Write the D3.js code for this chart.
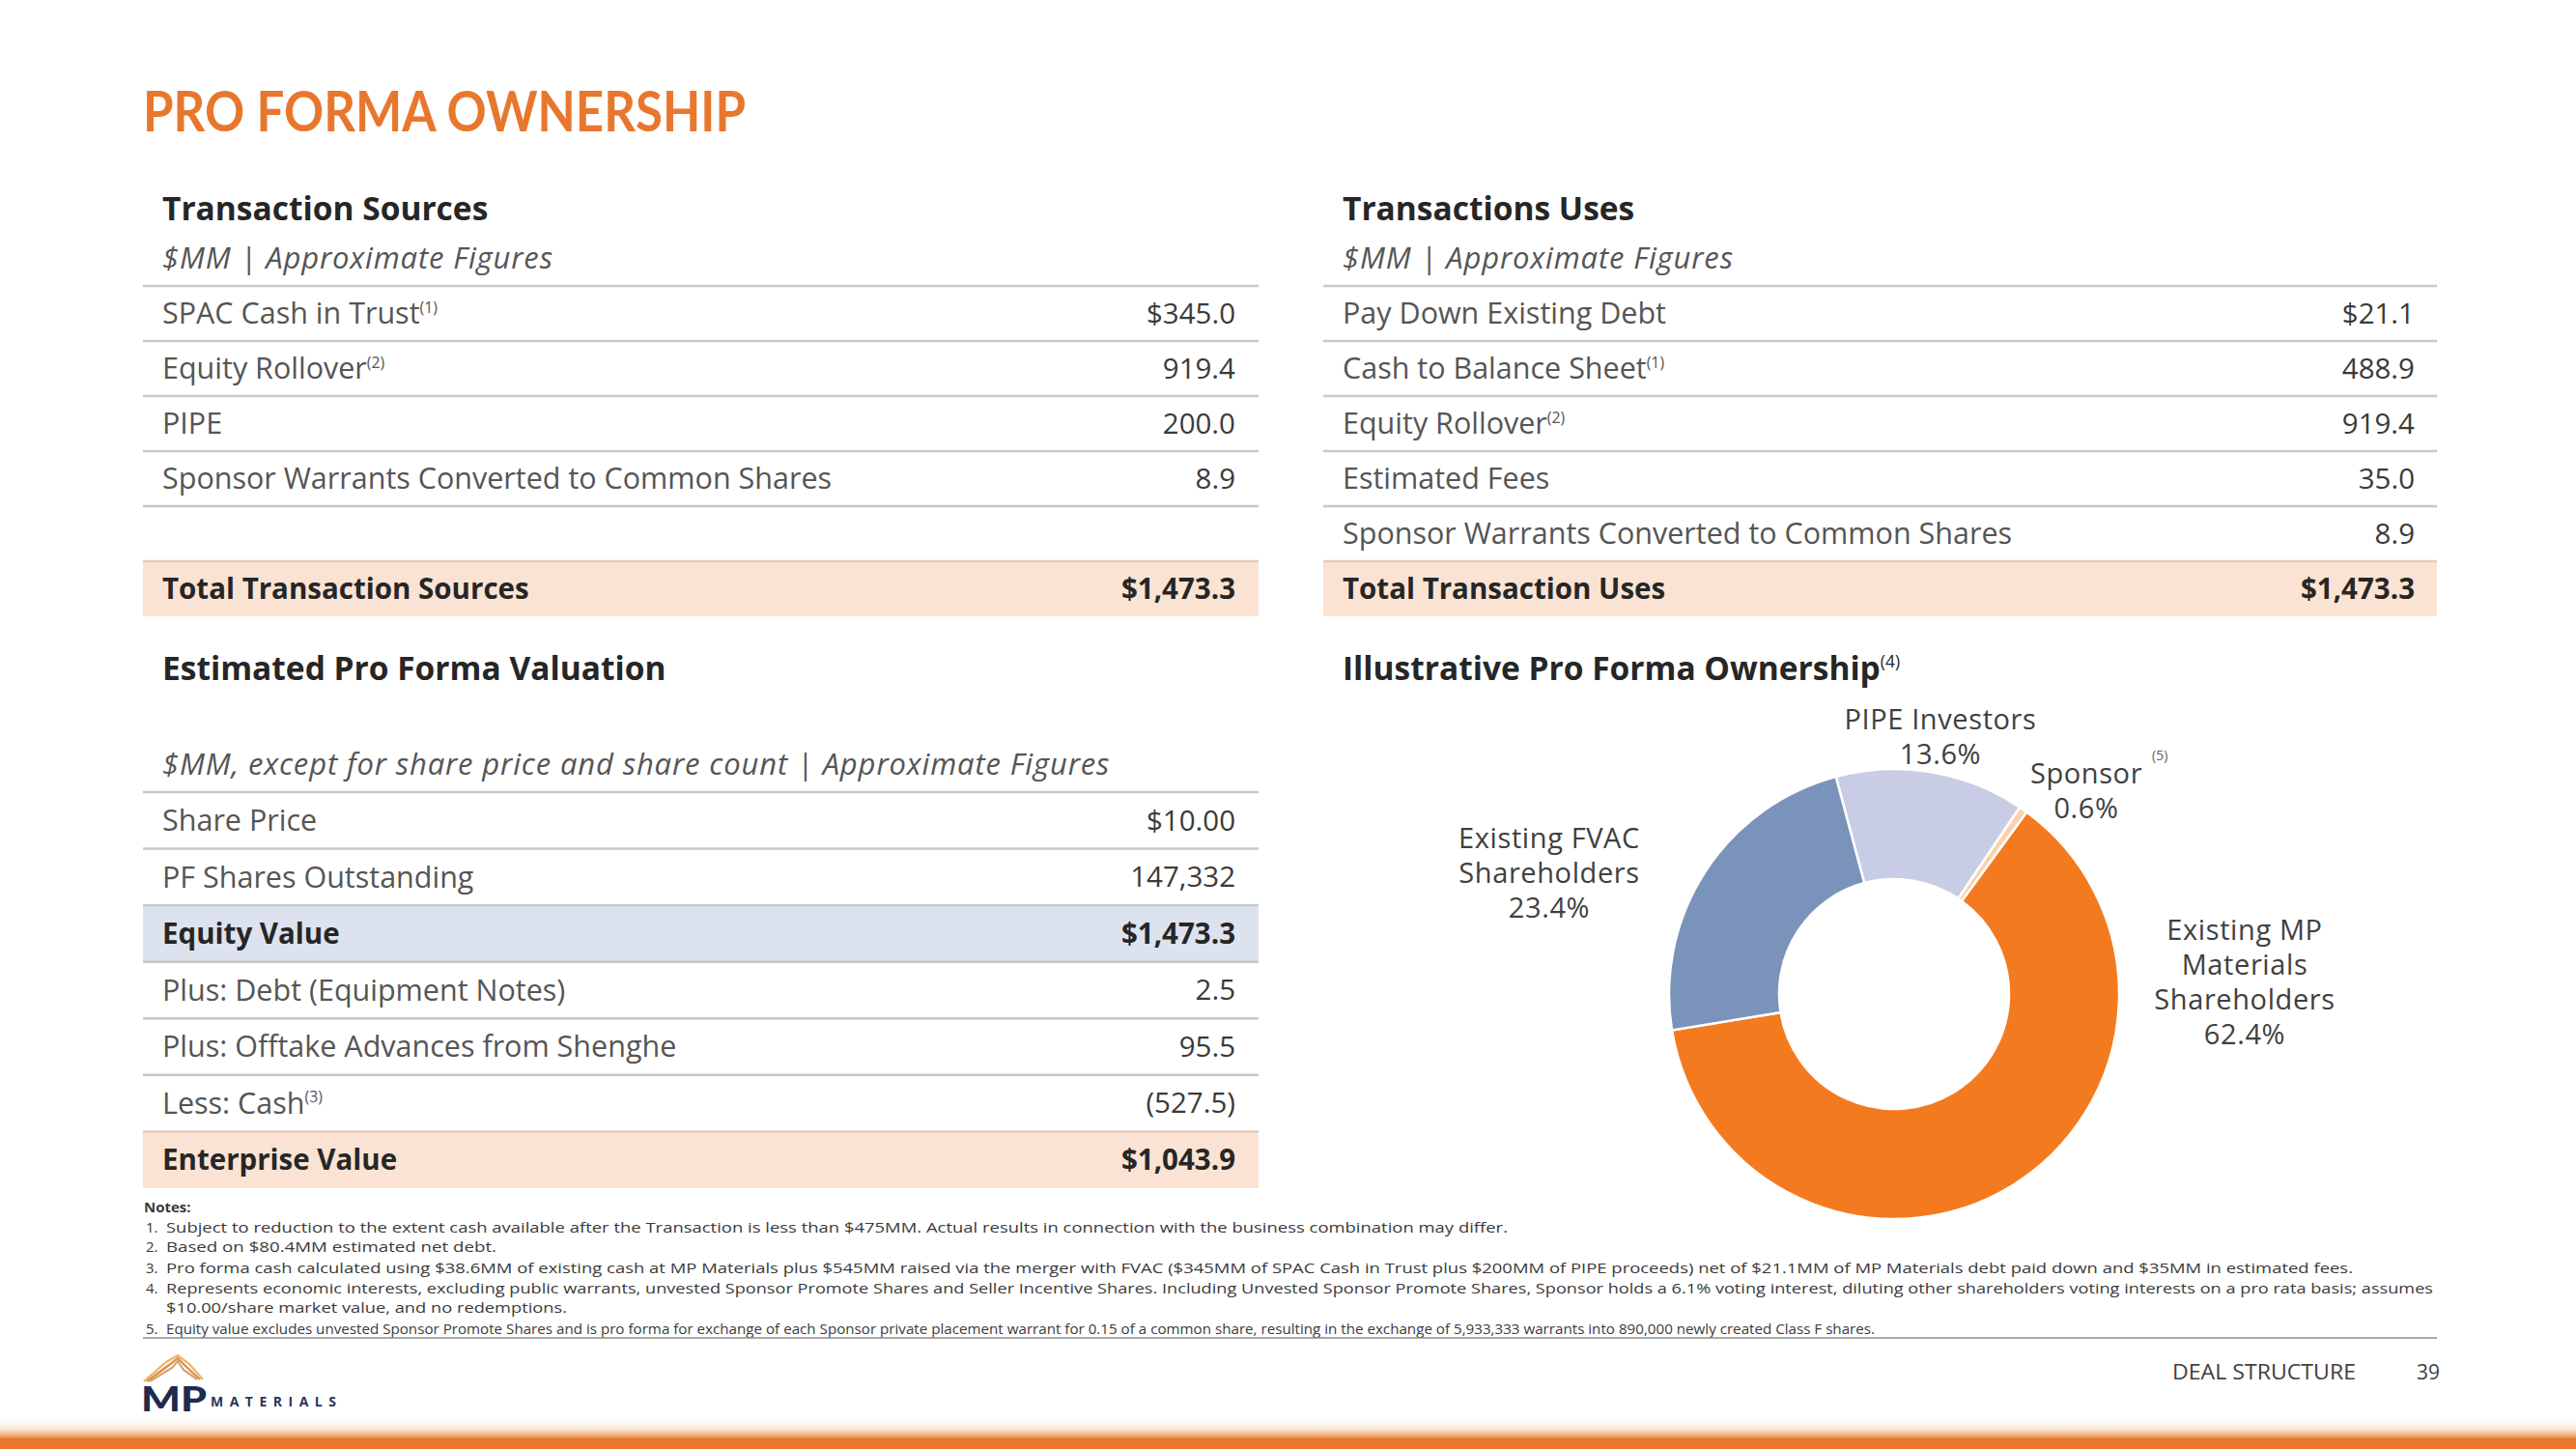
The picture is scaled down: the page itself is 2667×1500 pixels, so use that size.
<!DOCTYPE html>
<html>
<head>
<meta charset="utf-8">
<script src="https://cdn.jsdelivr.net/npm/d3@7"></script>
<style>
  html, body { margin: 0; padding: 0; background: #ffffff; }
  svg { display: block; }
</style>
</head>
<body>
<div id="chart"></div>
<script>
// ---------------- DATA ----------------
const pageTitle = "PRO FORMA OWNERSHIP";

const sourcesTitle = "Transaction Sources";
const sourcesSubtitle = "$MM | Approximate Figures";
const sourceItems = ["SPAC Cash in Trust", "Equity Rollover", "PIPE", "Sponsor Warrants Converted to Common Shares"];
const sourceNotes = ["(1)", "(2)", "", ""];
const sourceValues = ["$345.0", "919.4", "200.0", "8.9"];
const sourceTotalLabel = "Total Transaction Sources";
const sourceTotalValue = "$1,473.3";

const usesTitle = "Transactions Uses";
const usesSubtitle = "$MM | Approximate Figures";
const useItems = ["Pay Down Existing Debt", "Cash to Balance Sheet", "Equity Rollover", "Estimated Fees", "Sponsor Warrants Converted to Common Shares"];
const useNotes = ["", "(1)", "(2)", "", ""];
const useValues = ["$21.1", "488.9", "919.4", "35.0", "8.9"];
const useTotalLabel = "Total Transaction Uses";
const useTotalValue = "$1,473.3";

const valuationTitle = "Estimated Pro Forma Valuation";
const valuationSubtitle = "$MM, except for share price and share count | Approximate Figures";
const valuationItems = ["Share Price", "PF Shares Outstanding", "Equity Value", "Plus: Debt (Equipment Notes)", "Plus: Offtake Advances from Shenghe", "Less: Cash", "Enterprise Value"];
const valuationNotes = ["", "", "", "", "", "(3)", ""];
const valuationValues = ["$10.00", "147,332", "$1,473.3", "2.5", "95.5", "(527.5)", "$1,043.9"];
const valuationHighlight = ["", "", "blue", "", "", "", "peach"];

const ownershipTitle = "Illustrative Pro Forma Ownership";
const ownershipTitleNote = "(4)";
const ownerNames = ["PIPE Investors", "Sponsor", "Existing MP Materials Shareholders", "Existing FVAC Shareholders"];
const ownerLabelLines = [["PIPE Investors"], ["Sponsor"], ["Existing MP", "Materials", "Shareholders"], ["Existing FVAC", "Shareholders"]];
const ownerNotes = ["", "(5)", "", ""];
const ownerShares = [13.6, 0.6, 62.4, 23.4];

const notesTitle = "Notes:";
const notesLines = [
  ["1.", "Subject to reduction to the extent cash available after the Transaction is less than $475MM. Actual results in connection with the business combination may differ."],
  ["2.", "Based on $80.4MM estimated net debt."],
  ["3.", "Pro forma cash calculated using $38.6MM of existing cash at MP Materials plus $545MM raised via the merger with FVAC ($345MM of SPAC Cash in Trust plus $200MM of PIPE proceeds) net of $21.1MM of MP Materials debt paid down and $35MM in estimated fees."],
  ["4.", "Represents economic interests, excluding public warrants, unvested Sponsor Promote Shares and Seller Incentive Shares. Including Unvested Sponsor Promote Shares, Sponsor holds a 6.1% voting interest, diluting other shareholders voting interests on a pro rata basis; assumes"],
  ["", "$10.00/share market value, and no redemptions."],
  ["5.", "Equity value excludes unvested Sponsor Promote Shares and is pro forma for exchange of each Sponsor private placement warrant for 0.15 of a common share, resulting in the exchange of 5,933,333 warrants into 890,000 newly created Class F shares."]
];
const footerSection = "DEAL STRUCTURE";
const pageNumber = "39";

// ---------------- STYLE / LAYOUT ----------------
const W = 2667, H = 1500;
const FONT = "'Open Sans', 'DejaVu Sans', sans-serif";
const ORANGE = "#E8772E";
const DARK = "#262626";
const GREY_TXT = "#555555";
const VAL_TXT = "#3a3a3a";
const LINE = "#C8C8C8";
const PEACH = "#FBE3D3";
const BLUEBAND = "#DCE3EE";
const ROW_FS = 30.5, VAL_FS = 29.5, HEAD_FS = 33.5, SUB_FS = 31;

const svg = d3.select("#chart").append("svg")
  .attr("width", W).attr("height", H)
  .attr("viewBox", `0 0 ${W} ${H}`)
  .style("font-family", FONT);

svg.append("rect").attr("width", W).attr("height", H).attr("fill", "#ffffff");

const defs = svg.append("defs");
const grad = defs.append("linearGradient").attr("id", "bottomFade").attr("x1", 0).attr("y1", 0).attr("x2", 0).attr("y2", 1);
grad.append("stop").attr("offset", "0%").attr("stop-color", "#ffffff").attr("stop-opacity", 0);
grad.append("stop").attr("offset", "60%").attr("stop-color", "#F6C9A3").attr("stop-opacity", 0.6);
grad.append("stop").attr("offset", "100%").attr("stop-color", "#E8772E").attr("stop-opacity", 1);

// Title
svg.append("text")
  .attr("x", 148).attr("y", 136)
  .attr("font-family", "Lato, 'Open Sans', sans-serif")
  .attr("font-weight", 700).attr("font-size", 58)
  .attr("fill", ORANGE)
  .attr("textLength", 624).attr("lengthAdjust", "spacingAndGlyphs")
  .text(pageTitle);

function labelWithNote(g, x, y, text, note, size, opts = {}) {
  const t = g.append("text")
    .attr("x", x).attr("y", y)
    .attr("font-size", size)
    .attr("fill", opts.fill || GREY_TXT)
    .attr("font-weight", opts.weight || 400)
    .attr("font-style", opts.style || "normal")
    .attr("text-anchor", opts.anchor || "start")
    .attr("dy", "0.35em");
  t.append("tspan").text(text);
  if (note) {
    t.append("tspan").attr("font-size", size * 0.52).attr("font-weight", 400)
      .attr("dy", -size * 0.38).text(note);
  }
  return t;
}

// Generic table renderer
function drawTable(cfg) {
  const g = svg.append("g");
  const n = cfg.rowCount;
  const y = d3.scaleBand().domain(d3.range(n)).range([cfg.top, cfg.top + cfg.step * n]).paddingInner(0);

  g.append("text").attr("x", cfg.textX).attr("y", cfg.titleY).attr("dy", "0.35em")
    .attr("font-size", HEAD_FS).attr("font-weight", 700).attr("fill", DARK).text(cfg.title);
  g.append("text").attr("x", cfg.textX).attr("y", cfg.subY).attr("dy", "0.35em")
    .attr("font-size", SUB_FS).attr("font-style", "italic").attr("letter-spacing", 0.85)
    .attr("fill", GREY_TXT).text(cfg.subtitle);

  // bands
  cfg.rows.forEach((r, i) => {
    if (r.band) {
      g.append("rect").attr("x", cfg.x0).attr("y", y(i)).attr("width", cfg.x1 - cfg.x0).attr("height", y.bandwidth())
        .attr("fill", r.band === "blue" ? BLUEBAND : PEACH);
    }
  });
  // lines
  cfg.rows.forEach((r, i) => {
    if (r.blank) return;
    g.append("line").attr("x1", cfg.x0).attr("x2", cfg.x1)
      .attr("y1", y(i)).attr("y2", y(i))
      .attr("stroke", r.band ? (r.band === "blue" ? "#C5CBD6" : "#E2CDBE") : LINE)
      .attr("stroke-width", 2.5);
    if (!r.band && (i === n - 1 || (cfg.rows[i + 1] && cfg.rows[i + 1].blank))) {
      g.append("line").attr("x1", cfg.x0).attr("x2", cfg.x1)
        .attr("y1", y(i) + y.bandwidth()).attr("y2", y(i) + y.bandwidth())
        .attr("stroke", LINE).attr("stroke-width", 2.5);
    }
  });
  // text
  cfg.rows.forEach((r, i) => {
    if (r.blank) return;
    const cy = y(i) + y.bandwidth() / 2;
    const bold = !!r.band;
    labelWithNote(g, cfg.textX, cy, r.label, r.note, bold ? 29.5 : ROW_FS,
      { fill: bold ? DARK : GREY_TXT, weight: bold ? 700 : 400 });
    g.append("text").attr("x", cfg.valX).attr("y", cy).attr("dy", "0.35em")
      .attr("text-anchor", "end").attr("font-size", VAL_FS)
      .attr("font-weight", bold ? 700 : 400)
      .attr("fill", bold ? DARK : VAL_TXT).text(r.value);
  });
  return g;
}

// Sources
const sourceRows = sourceItems.map((d, i) => ({ label: d, note: sourceNotes[i], value: sourceValues[i] }));
sourceRows.push({ blank: true });
sourceRows.push({ label: sourceTotalLabel, value: sourceTotalValue, band: "peach" });
drawTable({ x0: 148, x1: 1303, textX: 168, valX: 1279, top: 296, step: 57, rowCount: sourceRows.length,
  rows: sourceRows, title: sourcesTitle, subtitle: sourcesSubtitle, titleY: 216, subY: 267 });

// Uses
const useRows = useItems.map((d, i) => ({ label: d, note: useNotes[i], value: useValues[i] }));
useRows.push({ label: useTotalLabel, value: useTotalValue, band: "peach" });
drawTable({ x0: 1370, x1: 2523, textX: 1390, valX: 2500, top: 296, step: 57, rowCount: useRows.length,
  rows: useRows, title: usesTitle, subtitle: usesSubtitle, titleY: 216, subY: 267 });

// Valuation
const valRows = valuationItems.map((d, i) => ({ label: d, note: valuationNotes[i], value: valuationValues[i], band: valuationHighlight[i] || null }));
drawTable({ x0: 148, x1: 1303, textX: 168, valX: 1279, top: 820, step: 58.57, rowCount: valRows.length,
  rows: valRows, title: valuationTitle, subtitle: valuationSubtitle, titleY: 692, subY: 791 });

// Ownership donut
const og = svg.append("g");
labelWithNote(og, 1390, 692, ownershipTitle, ownershipTitleNote, HEAD_FS, { fill: DARK, weight: 700 });

const cx = 1961, cy = 1029, rOuter = 233, rInner = 119;
const donutColors = d3.scaleOrdinal().domain(ownerNames).range(["#C9CCE5", "#F8D2AC", "#F47A20", "#7A93BA"]);
const startA = -15 * Math.PI / 180;
const pie = d3.pie().sort(null).value(d => d.v).startAngle(startA).endAngle(startA + 2 * Math.PI);
const arcs = pie(ownerNames.map((n, i) => ({ n, v: ownerShares[i] })));
const arc = d3.arc().innerRadius(rInner).outerRadius(rOuter);
og.append("g").attr("transform", `translate(${cx},${cy})`)
  .selectAll("path").data(arcs).join("path")
  .attr("d", arc)
  .attr("fill", d => donutColors(d.data.n))
  .attr("stroke", "#ffffff").attr("stroke-width", 2.5);

const labelPos = [
  { x: 2009, y: 745 },
  { x: 2160, y: 801 },
  { x: 2324, y: 963 },
  { x: 1604, y: 868 }
];
const LH = 36, DL_FS = 29;
ownerNames.forEach((n, i) => {
  const lines = ownerLabelLines[i];
  const p = labelPos[i];
  lines.forEach((ln, j) => {
    og.append("text").attr("x", p.x).attr("y", p.y + j * LH).attr("dy", "0.35em")
      .attr("text-anchor", "middle").attr("font-size", DL_FS).attr("letter-spacing", 0.6)
      .attr("fill", "#404040").text(ln);
  });
  if (ownerNotes[i]) {
    og.append("text").attr("x", p.x + 68).attr("y", p.y - 14)
      .attr("font-size", 14).attr("fill", "#606060").text(ownerNotes[i]);
  }
  og.append("text").attr("x", p.x).attr("y", p.y + lines.length * LH).attr("dy", "0.35em")
    .attr("text-anchor", "middle").attr("font-size", DL_FS).attr("letter-spacing", 0.6)
    .attr("fill", "#404040")
    .text(d3.format(".1f")(ownerShares[i]) + "%");
});

// Notes
const ng = svg.append("g").attr("fill", "#3a3a3a");
ng.append("text").attr("x", 149).attr("y", 1255).attr("font-size", 15).attr("font-weight", 700).text(notesTitle);
const noteY = [1276, 1296, 1318, 1339, 1359, 1381];
const noteEnd = [1561, 514, 2436, 2519, 587, 1941];
notesLines.forEach((nl, i) => {
  if (nl[0]) ng.append("text").attr("x", 151).attr("y", noteY[i]).attr("font-size", 15).text(nl[0]);
  ng.append("text").attr("x", 172).attr("y", noteY[i]).attr("font-size", 15)
    .attr("textLength", noteEnd[i] - 172).attr("lengthAdjust", "spacingAndGlyphs").text(nl[1]);
});
svg.append("line").attr("x1", 148).attr("x2", 2523).attr("y1", 1385).attr("y2", 1385)
  .attr("stroke", "#8c8c8c").attr("stroke-width", 1.5);

// Footer
svg.append("text").attr("x", 2439).attr("y", 1428).attr("text-anchor", "end")
  .attr("font-size", 21).attr("fill", "#404040").attr("textLength", 190).attr("lengthAdjust", "spacingAndGlyphs")
  .text(footerSection);
svg.append("text").attr("x", 2526).attr("y", 1428).attr("text-anchor", "end")
  .attr("font-size", 21).attr("fill", "#404040").text(pageNumber);

// Logo
const lg = svg.append("g");
[["#E9B56B", 0], ["#E38B3C", 3], ["#CFA57A", 6]].forEach(([c, o]) => {
  lg.append("path")
    .attr("d", `M${149 + o},${1430} L${172 + o},${1410 + o} L${184},${1403 + o} L${196 - o},${1412 + o} L${210 - o},${1428}`)
    .attr("fill", "none").attr("stroke", c).attr("stroke-width", 2.2);
});
lg.append("text").attr("x", 146).attr("y", 1461).attr("font-family", "Lato, 'Open Sans', sans-serif")
  .attr("font-weight", 900).attr("font-size", 36).attr("fill", "#1E2A4F")
  .attr("textLength", 68).attr("lengthAdjust", "spacingAndGlyphs").text("MP");
lg.append("text").attr("x", 218).attr("y", 1456).attr("font-weight", 700)
  .attr("font-size", 14).attr("fill", "#2A3558")
  .attr("textLength", 130).attr("lengthAdjust", "spacing").text("MATERIALS");

// Bottom bar
svg.append("rect").attr("x", 0).attr("y", 1466).attr("width", W).attr("height", 24).attr("fill", "url(#bottomFade)");
svg.append("rect").attr("x", 0).attr("y", 1489).attr("width", W).attr("height", 11).attr("fill", ORANGE);
</script>
</body>
</html>
